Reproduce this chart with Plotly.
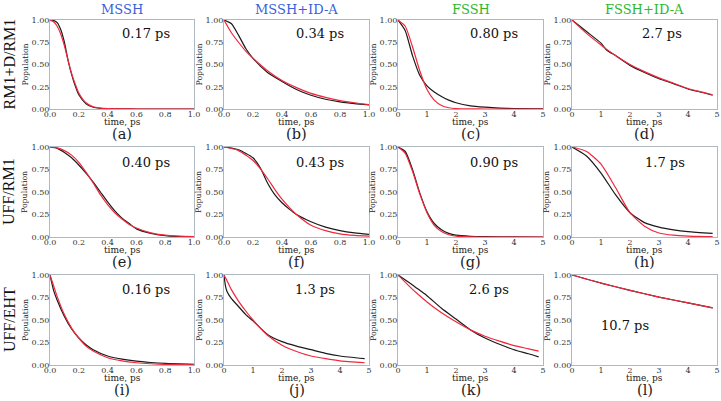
import plotly.graph_objects as go

# ---------------- data ----------------
col_titles = ["MSSH", "MSSH+ID-A", "FSSH", "FSSH+ID-A"]
row_titles = ["RM1+D/RM1", "UFF/RM1", "UFF/EHT"]
panel_labels = ["(a)", "(b)", "(c)", "(d)", "(e)", "(f)", "(g)", "(h)", "(i)", "(j)", "(k)", "(l)"]
times_text = ["0.17 ps", "0.34 ps", "0.80 ps", "2.7 ps",
              "0.40 ps", "0.43 ps", "0.90 ps", "1.7 ps",
              "0.16 ps", "1.3 ps", "2.6 ps", "10.7 ps"]
x_max = [1, 1, 5, 5, 1, 1, 5, 5, 1, 5, 5, 5]

t_a = [0, 0.025, 0.05, 0.075, 0.1, 0.125, 0.15, 0.175, 0.2, 0.25, 0.3, 0.35, 0.4, 0.5, 0.6, 0.8, 1.0]
black_a = [1.0, 0.995, 0.97, 0.89, 0.75, 0.55, 0.39, 0.26, 0.16, 0.06, 0.02, 0.008, 0.003, 0.001, 0, 0, 0]
red_a = [1.0, 0.98, 0.93, 0.84, 0.71, 0.55, 0.40, 0.28, 0.18, 0.07, 0.025, 0.01, 0.004, 0.001, 0, 0, 0]

t_b = [0, 0.05, 0.1, 0.15, 0.2, 0.3, 0.4, 0.5, 0.6, 0.7, 0.8, 0.9, 1.0]
black_b = [1.0, 0.96, 0.83, 0.68, 0.57, 0.41, 0.31, 0.22, 0.155, 0.11, 0.08, 0.06, 0.045]
red_b = [1.0, 0.86, 0.75, 0.65, 0.57, 0.43, 0.32, 0.24, 0.175, 0.13, 0.095, 0.07, 0.05]

t_c = [0, 0.25, 0.5, 0.75, 1.0, 1.25, 1.5, 1.75, 2.0, 2.5, 3.0, 3.5, 4.0, 5.0]
black_c = [1.0, 0.88, 0.60, 0.38, 0.26, 0.19, 0.14, 0.10, 0.07, 0.035, 0.02, 0.01, 0.005, 0.002]
red_c = [1.0, 0.93, 0.70, 0.43, 0.22, 0.10, 0.04, 0.014, 0.005, 0.001, 0, 0, 0, 0]

t_d = [0, 0.5, 1.0, 1.2, 1.5, 2.0, 2.5, 3.0, 3.5, 4.0, 4.5, 4.85]
black_d = [1.0, 0.87, 0.74, 0.66, 0.60, 0.49, 0.41, 0.34, 0.285, 0.225, 0.185, 0.155]
red_d = [1.0, 0.85, 0.72, 0.67, 0.60, 0.50, 0.42, 0.35, 0.29, 0.23, 0.19, 0.16]

t_e = [0, 0.05, 0.1, 0.15, 0.2, 0.25, 0.3, 0.35, 0.4, 0.45, 0.5, 0.55, 0.6, 0.7, 0.8, 0.9, 1.0]
black_e = [1.0, 0.985, 0.94, 0.88, 0.80, 0.71, 0.61, 0.50, 0.39, 0.29, 0.21, 0.15, 0.09, 0.04, 0.015, 0.005, 0.002]
red_e = [1.0, 0.99, 0.96, 0.91, 0.83, 0.72, 0.60, 0.47, 0.36, 0.27, 0.20, 0.14, 0.10, 0.045, 0.02, 0.01, 0.005]

t_f = [0, 0.1, 0.2, 0.25, 0.3, 0.35, 0.4, 0.45, 0.5, 0.6, 0.7, 0.8, 0.9, 1.0]
black_f = [1.0, 0.97, 0.88, 0.77, 0.60, 0.47, 0.38, 0.31, 0.25, 0.17, 0.11, 0.07, 0.045, 0.03]
red_f = [1.0, 0.96, 0.85, 0.76, 0.65, 0.53, 0.42, 0.33, 0.25, 0.13, 0.07, 0.035, 0.018, 0.01]

t_g = [0, 0.25, 0.5, 0.75, 1.0, 1.25, 1.5, 1.75, 2.0, 2.5, 3.0, 4.0, 5.0]
black_g = [1.0, 0.95, 0.75, 0.49, 0.28, 0.15, 0.08, 0.04, 0.02, 0.008, 0.004, 0.001, 0]
red_g = [1.0, 0.93, 0.73, 0.48, 0.27, 0.13, 0.06, 0.025, 0.01, 0.002, 0, 0, 0]

t_h = [0, 0.5, 1.0, 1.5, 2.0, 2.5, 3.0, 3.5, 4.0, 4.85]
black_h = [1.0, 0.90, 0.71, 0.47, 0.27, 0.16, 0.11, 0.08, 0.06, 0.04]
red_h = [1.0, 0.95, 0.81, 0.55, 0.27, 0.12, 0.045, 0.02, 0.01, 0.004]

t_i = [0, 0.025, 0.05, 0.1, 0.15, 0.2, 0.25, 0.3, 0.4, 0.5, 0.6, 0.7, 0.8, 1.0]
black_i = [1.0, 0.83, 0.72, 0.54, 0.40, 0.30, 0.225, 0.17, 0.10, 0.065, 0.042, 0.028, 0.018, 0.008]
red_i = [1.0, 0.88, 0.76, 0.56, 0.41, 0.30, 0.21, 0.155, 0.08, 0.045, 0.025, 0.014, 0.008, 0.003]

t_j = [0, 0.05, 0.1, 0.25, 0.5, 0.75, 1.0, 1.5, 2.0, 2.5, 3.0, 3.5, 4.0, 4.85]
black_j = [1.0, 0.88, 0.82, 0.74, 0.65, 0.56, 0.49, 0.34, 0.26, 0.21, 0.17, 0.13, 0.10, 0.07]
red_j = [1.0, 0.97, 0.94, 0.84, 0.71, 0.60, 0.50, 0.33, 0.22, 0.15, 0.10, 0.07, 0.046, 0.025]

t_k = [0, 0.5, 0.75, 1.0, 1.5, 2.0, 2.5, 3.0, 3.5, 4.0, 4.5, 4.85]
black_k = [1.0, 0.89, 0.83, 0.77, 0.63, 0.51, 0.39, 0.30, 0.23, 0.17, 0.125, 0.09]
red_k = [1.0, 0.84, 0.77, 0.70, 0.58, 0.48, 0.39, 0.32, 0.265, 0.215, 0.18, 0.155]

t_l = [0, 1.0, 2.0, 3.0, 4.0, 4.85]
black_l = [1.0, 0.91, 0.83, 0.755, 0.69, 0.635]
red_l = [1.0, 0.91, 0.83, 0.755, 0.69, 0.635]

series_t = [t_a, t_b, t_c, t_d, t_e, t_f, t_g, t_h, t_i, t_j, t_k, t_l]
series_black = [black_a, black_b, black_c, black_d, black_e, black_f, black_g, black_h, black_i, black_j, black_k, black_l]
series_red = [red_a, red_b, red_c, red_d, red_e, red_f, red_g, red_h, red_i, red_j, red_k, red_l]

# ---------------- layout geometry ----------------
W, H = 721, 401
col_px = [(50, 194), (224, 369), (398, 543), (572, 717)]
row_px = [(20, 109), (147, 237), (275, 365)]
text_pos = [(0.67, 0.85), (0.66, 0.85), (0.66, 0.85), (0.62, 0.85),
            (0.67, 0.83), (0.66, 0.83), (0.66, 0.83), (0.64, 0.83),
            (0.67, 0.84), (0.63, 0.84), (0.63, 0.84), (0.365, 0.44)]
title_colors = ["#3a5fdc", "#3a5fdc", "#2db82d", "#2db82d"]

SERIF = "DejaVu Serif"
AX = "#aeb8c0"

fig = go.Figure()
annotations = []
for k in range(12):
    r, c = divmod(k, 4)
    n = k + 1
    xa = "x" if n == 1 else f"x{n}"
    ya = "y" if n == 1 else f"y{n}"
    fig.add_trace(go.Scatter(x=series_t[k], y=series_black[k], mode="lines",
                             line=dict(color="#1a1a1a", width=1.2, shape="spline", smoothing=0.6),
                             xaxis=xa, yaxis=ya, showlegend=False))
    fig.add_trace(go.Scatter(x=series_t[k], y=series_red[k], mode="lines",
                             line=dict(color="#f0283c", width=1.2, shape="spline", smoothing=0.6),
                             xaxis=xa, yaxis=ya, showlegend=False))
    x0, x1 = col_px[c]
    y0, y1 = row_px[r]
    if x_max[k] == 1:
        tv = [0, 0.2, 0.4, 0.6, 0.8, 1.0]
        tt = ["0.0", "0.2", "0.4", "0.6", "0.8", "1.0"]
    else:
        tv = [0, 1, 2, 3, 4, 5]
        tt = ["0", "1", "2", "3", "4", "5"]
    xkey = "xaxis" if n == 1 else f"xaxis{n}"
    ykey = "yaxis" if n == 1 else f"yaxis{n}"
    fig.layout[xkey] = dict(domain=[x0 / W, x1 / W], anchor=ya, range=[0, x_max[k]],
                            autorange=False, automargin=False,
                            tickmode="array", tickvals=tv, ticktext=tt,
                            showgrid=False, zeroline=False,
                            showline=True, mirror=True, linecolor=AX, linewidth=1,
                            ticks="", ticklabelstandoff=-3,
                            tickfont=dict(family=SERIF, size=8, color="#333"))
    fig.layout[ykey] = dict(domain=[1 - y1 / H, 1 - y0 / H], anchor=xa, range=[0, 1],
                            autorange=False, automargin=False,
                            tickmode="array", tickvals=[0, 0.25, 0.5, 0.75, 1.0],
                            ticktext=["0.00", "0.25", "0.50", "0.75", "1.00"],
                            showgrid=False, zeroline=False,
                            showline=True, mirror=True, linecolor=AX, linewidth=1,
                            ticks="", ticklabelstandoff=-2,
                            tickfont=dict(family=SERIF, size=8, color="#333"))
    cx = (x0 + x1) / 2
    annotations.append(dict(text=times_text[k], xref=f"{xa} domain", yref=f"{ya} domain",
                            x=text_pos[k][0], y=text_pos[k][1], showarrow=False,
                            xanchor="center", yanchor="middle",
                            font=dict(family=SERIF, size=13, color="#111")))
    annotations.append(dict(text="time, ps", xref="paper", yref="paper",
                            x=cx / W, y=1 - (y1 + 13) / H, showarrow=False,
                            xanchor="center", yanchor="middle",
                            font=dict(family=SERIF, size=9, color="#222")))
    annotations.append(dict(text="Population", xref="paper", yref="paper",
                            x=(x0 - 25) / W, y=1 - ((y0 + y1) / 2) / H, showarrow=False,
                            textangle=-90, xanchor="center", yanchor="middle",
                            font=dict(family=SERIF, size=7.8, color="#222")))
    annotations.append(dict(text=panel_labels[k], xref="paper", yref="paper",
                            x=cx / W, y=1 - (y1 + 25) / H, showarrow=False,
                            xanchor="center", yanchor="middle",
                            font=dict(family=SERIF, size=14.5, color="#222")))

for c in range(4):
    x0, x1 = col_px[c]
    annotations.append(dict(text=col_titles[c], xref="paper", yref="paper",
                            x=((x0 + x1) / 2) / W, y=1 - 9 / H, showarrow=False,
                            xanchor="center", yanchor="middle",
                            font=dict(family=SERIF, size=13, color=title_colors[c])))
for r in range(3):
    y0, y1 = row_px[r]
    annotations.append(dict(text=row_titles[r], xref="paper", yref="paper",
                            x=9 / W, y=1 - ((y0 + y1) / 2) / H, showarrow=False,
                            textangle=-90, xanchor="center", yanchor="middle",
                            font=dict(family="Liberation Serif", size=16, color="#111")))

fig.update_layout(width=W, height=H, margin=dict(l=0, r=0, t=0, b=0, autoexpand=False),
                  paper_bgcolor="white", plot_bgcolor="white",
                  annotations=annotations, showlegend=False)

fig.write_html("out.html", config={"displayModeBar": False},
               post_script="document.body.style.margin='0';document.body.style.padding='0';")
